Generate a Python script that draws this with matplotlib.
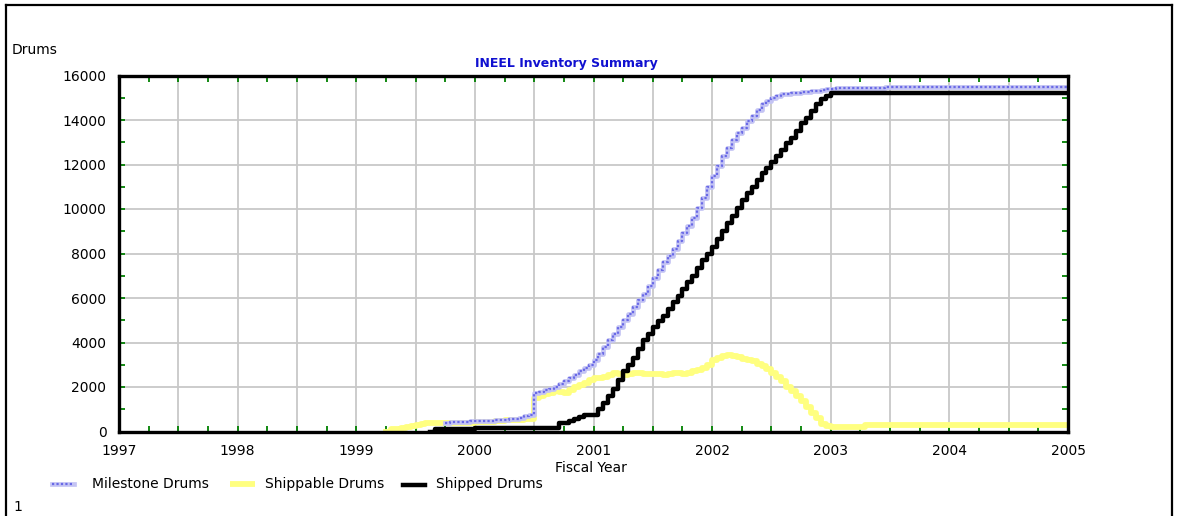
import numpy as np
import matplotlib
matplotlib.use("Agg")
import matplotlib.pyplot as plt
from matplotlib.lines import Line2D
from matplotlib.ticker import MultipleLocator, FuncFormatter

# ---------------- data (half-monthly, counted from start of FY1997) ----------------
year_ticks = [1997, 1998, 1999, 2000, 2001, 2002, 2003, 2004, 2005]
y_ticks = [0, 2000, 4000, 6000, 8000, 10000, 12000, 14000, 16000]
end_year = 2005

milestone_start = 66
milestone_drums = [400, 410, 420, 430, 440, 450, 460, 470, 480, 490,
                   500, 515, 530, 550, 580, 620, 680, 720, 1720, 1780,
                   1850, 1920, 2000, 2120, 2250, 2400, 2550, 2700, 2850, 3000,
                   3200, 3500, 3800, 4100, 4400, 4700, 5000, 5300, 5600, 5900,
                   6200, 6550, 6900, 7250, 7600, 7900, 8200, 8550, 8900, 9250,
                   9600, 10050, 10500, 11000, 11500, 11950, 12400, 12750, 13100, 13400,
                   13650, 13950, 14200, 14450, 14700, 14850, 15000, 15100, 15150, 15180,
                   15200, 15220, 15250, 15270, 15300, 15320, 15350, 15380, 15400, 15420,
                   15420, 15420, 15420, 15420, 15420, 15420, 15420, 15420, 15420, 15500]

shippable_start = 54
shippable_drums = [0, 100, 100, 150, 200, 250, 300, 340, 380, 400,
                   400, 400, 400, 400, 400, 400, 400, 400, 420, 420,
                   420, 420, 450, 470, 500, 510, 520, 530, 550, 560,
                   1500, 1600, 1700, 1750, 1800, 1780, 1750, 1850, 2000, 2100,
                   2200, 2300, 2400, 2420, 2450, 2550, 2650, 2600, 2550, 2600,
                   2650, 2620, 2600, 2600, 2600, 2580, 2550, 2600, 2650, 2620,
                   2600, 2650, 2700, 2780, 2850, 3000, 3200, 3320, 3400, 3420,
                   3400, 3330, 3250, 3200, 3150, 3050, 2950, 2800, 2650, 2450,
                   2250, 2020, 1800, 1580, 1350, 1100, 850, 600, 350, 250,
                   200, 200, 200, 200, 200, 200, 200, 300]

shipped_start = 63
shipped_drums = [0, 100, 100, 100, 100, 100, 100, 100, 100, 170,
                 170, 170, 170, 170, 170, 170, 170, 170, 170, 170,
                 170, 170, 170, 170, 170, 170, 380, 400, 480, 560,
                 650, 740, 740, 750, 1000, 1300, 1600, 1900, 2300, 2700,
                 3000, 3300, 3700, 4100, 4400, 4700, 4950, 5200, 5500, 5800,
                 6100, 6400, 6700, 7000, 7350, 7700, 8000, 8300, 8650, 9000,
                 9350, 9700, 10050, 10400, 10700, 11000, 11300, 11600, 11850, 12100,
                 12400, 12650, 12950, 13200, 13500, 13850, 14100, 14400, 14700, 14950,
                 15100, 15200]

def series(start, vals):
    x = 1997 + (start + np.arange(len(vals))) / 24.0
    return np.append(x, end_year), np.append(vals, vals[-1])

# ---------------- figure ----------------
W, H = 1178, 516
fig = plt.figure(figsize=(W / 100, H / 100), dpi=100)
plt.rcParams["font.family"] = ["DejaVu Sans"]

def fx(px):
    return px / W

def fy(py):
    return 1 - py / H

L, R, T, B = 119, 1068, 75.5, 431.5
ax = fig.add_axes([fx(L), fy(B), fx(R) - fx(L), fy(T) - fy(B)])

sx, sy = series(shippable_start, shippable_drums)
ax.plot(sx, sy, drawstyle="steps-post", color="#ffff80", lw=4.2, zorder=3)
mx, my = series(milestone_start, milestone_drums)
ax.plot(mx, my, drawstyle="steps-post", color="#c4c4f4", lw=3.4, zorder=4)
ax.plot(mx, my, drawstyle="steps-post", color="#6a6ae6", lw=1.6, ls=(0, (1, 1)), zorder=4)
hx, hy = series(shipped_start, shipped_drums)
ax.plot(hx, hy, drawstyle="steps-post", color="black", lw=3.2, zorder=5)

ax.set_xlim(1997, 2005)
ax.set_ylim(0, 16000)

ax.xaxis.set_major_locator(MultipleLocator(0.5))
ax.xaxis.set_minor_locator(MultipleLocator(0.25))
ax.xaxis.set_major_formatter(FuncFormatter(
    lambda v, p: str(int(round(v))) if abs(v - round(v)) < 1e-6 and int(round(v)) in year_ticks else ""))
ax.set_yticks(y_ticks)
ax.set_yticklabels([str(v) for v in y_ticks])
ax.yaxis.set_minor_locator(MultipleLocator(1000))

ax.tick_params(axis="x", which="both", direction="in", top=True, bottom=True,
               length=4, width=1.3, color="#008000", labelsize=10, pad=9)
ax.tick_params(axis="y", which="both", direction="in", left=True, right=True,
               length=4, width=1.3, color="#008000", labelsize=10, pad=9)

ax.grid(True, which="major", color="#c8c8c8", lw=1.3)
ax.set_axisbelow(True)
for s in ax.spines.values():
    s.set_linewidth(2.4)
    s.set_color("black")
    s.set_zorder(6)

# texts
fig.text(fx(566), fy(64), "INEEL Inventory Summary", color="#1010d0",
         fontsize=9, fontweight="bold", ha="center", va="center")
fig.text(fx(12), fy(50), "Drums", fontsize=10, ha="left", va="center")
fig.text(fx(591), fy(468), "Fiscal Year", fontsize=10, ha="center", va="center")
fig.text(fx(13), fy(507), "1", fontsize=10, ha="left", va="center")

# legend
def leg_line(x0, x1, y, **kw):
    fig.add_artist(Line2D([fx(x0), fx(x1)], [fy(y), fy(y)], transform=fig.transFigure, **kw))

leg_line(52, 74, 484, color="#c4c4f4", lw=3.4)
leg_line(52, 74, 484, color="#6a6ae6", lw=1.6, ls=(0, (1, 1)))
fig.text(fx(92), fy(484), "Milestone Drums", fontsize=10, ha="left", va="center")
leg_line(230, 255, 484, color="#ffff80", lw=4.2, solid_capstyle="butt")
fig.text(fx(265), fy(484), "Shippable Drums", fontsize=10, ha="left", va="center")
leg_line(403, 425, 485, color="black", lw=3.2)
fig.text(fx(436), fy(484), "Shipped Drums", fontsize=10, ha="left", va="center")

# outer frame
fr = dict(color="black", lw=1.6, transform=fig.transFigure)
fig.add_artist(Line2D([fx(6), fx(6)], [fy(5), 0], **fr))
fig.add_artist(Line2D([fx(6), fx(1172)], [fy(5), fy(5)], **fr))
fig.add_artist(Line2D([fx(1172), fx(1172)], [fy(5), 0], **fr))

fig.savefig("out.png", dpi=100)
